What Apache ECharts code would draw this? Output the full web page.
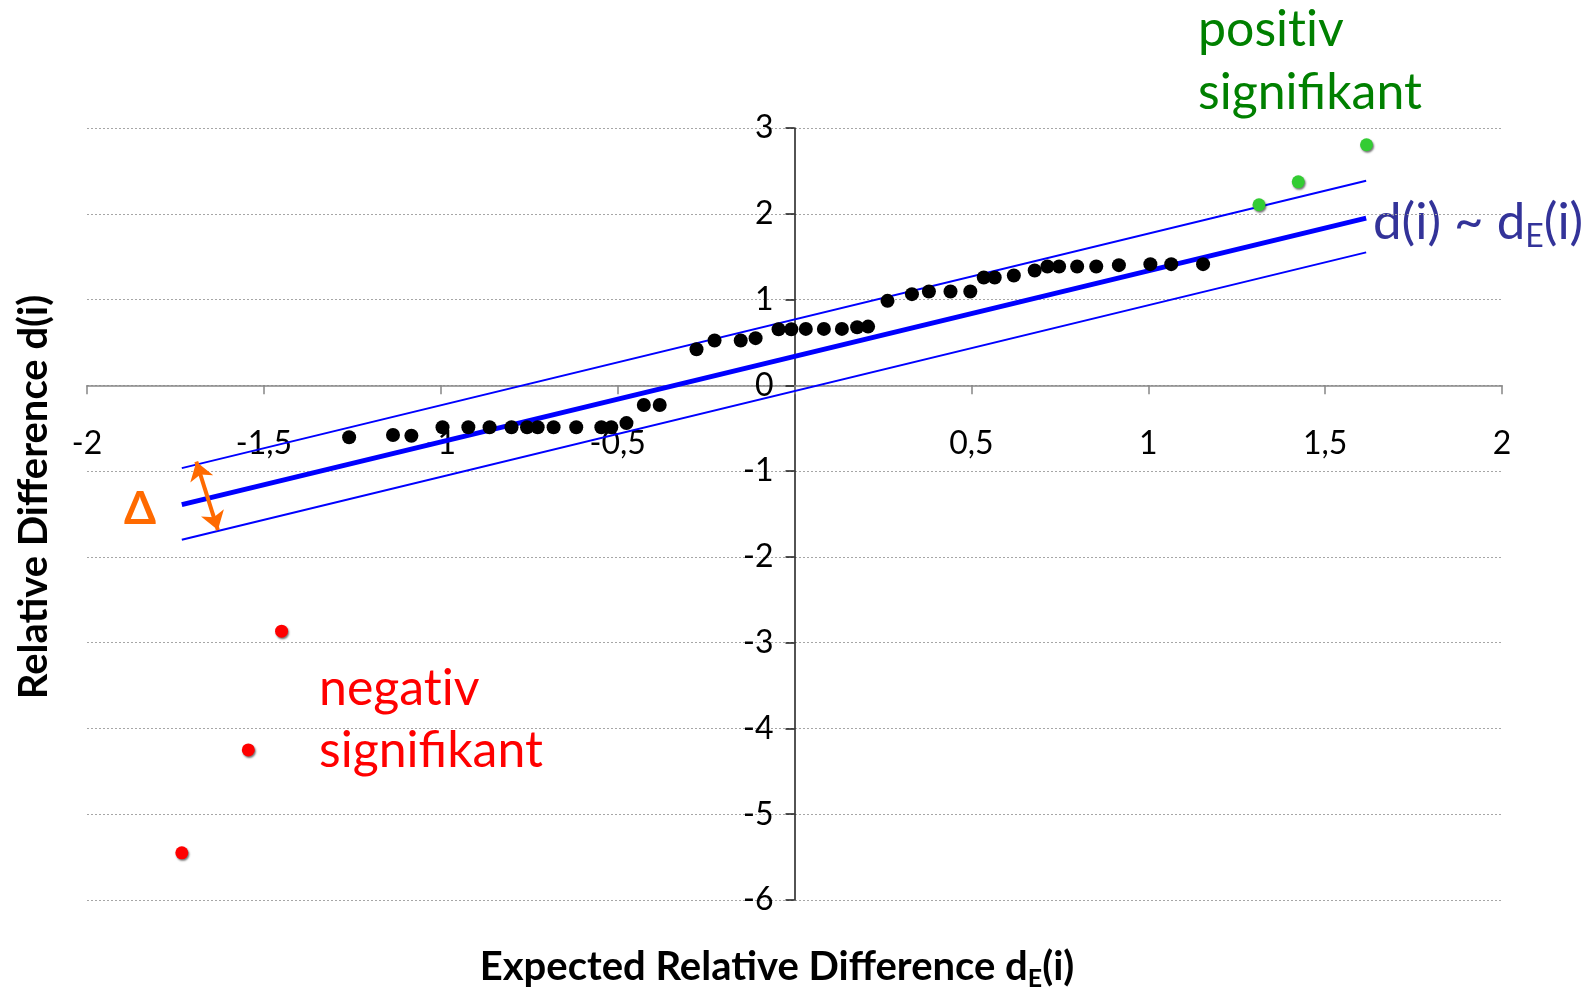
<!DOCTYPE html>
<html><head><meta charset="utf-8">
<script src="https://cdn.jsdelivr.net/npm/echarts@6/dist/echarts.min.js"></script>
<style>html,body{margin:0;padding:0;background:#fff}#c{width:1585px;height:987px}</style>
</head><body><div id="c"></div>
<script>
// ---- data ----
const blackX = [-1.259, -1.135, -1.083, -0.995, -0.922, -0.862, -0.800, -0.756, -0.726, -0.681, -0.617, -0.546, -0.518, -0.475, -0.426, -0.381, -0.277, -0.226, -0.152, -0.110, -0.045, -0.009, 0.032, 0.083, 0.134, 0.177, 0.208, 0.263, 0.332, 0.380, 0.441, 0.497, 0.535, 0.566, 0.620, 0.679, 0.715, 0.748, 0.799, 0.853, 0.917, 1.006, 1.065, 1.155];
const blackY = [-0.606, -0.579, -0.587, -0.489, -0.489, -0.489, -0.489, -0.489, -0.489, -0.489, -0.489, -0.489, -0.489, -0.440, -0.229, -0.229, 0.421, 0.522, 0.522, 0.550, 0.654, 0.654, 0.658, 0.658, 0.658, 0.678, 0.685, 0.985, 1.063, 1.094, 1.094, 1.094, 1.257, 1.257, 1.280, 1.338, 1.385, 1.385, 1.385, 1.385, 1.401, 1.413, 1.413, 1.413];
const negX = [-1.732, -1.544, -1.450];
const negY = [-5.45, -4.25, -2.866];
const posX = [1.313, 1.424, 1.617];
const posY = [2.105, 2.373, 2.805];
const bandX = [-1.732, 1.616];
const fitY = [-1.39, 1.95];
const upperY = [-0.965, 2.385];
const lowerY = [-1.80, 1.55];
const arrowX = [-1.691, -1.630];
const arrowY = [-0.89, -1.687];
const xMin = -2, xMax = 2, xStep = 0.5;
const yMin = -6, yMax = 3, yStep = 1;
const xTitle = 'Expected Relative Difference d';
const yTitle = 'Relative Difference d(i)';
const labelsPos = ['posit\u200Civ', 'signifikant'];
const labelsNeg = ['negat\u200Civ', 'signifikant'];
const deltaLabel = 'Δ';

const zip = (a, b) => a.map((v, i) => [v, b[i]]);
const FONT = 'Lato, "Open Sans", sans-serif';
const shadow = {shadowColor: 'rgba(0,0,0,0.55)', shadowBlur: 2, shadowOffsetX: 1, shadowOffsetY: 1.5};

const W = 1585, H = 987;
const G = {left: 87, right: 83, top: 128, bottom: 87};
const plotW = W - G.left - G.right, plotH = H - G.top - G.bottom;
// move the axes so they cross at the origin (labels follow the axis lines)
const xAxisOffset = -plotH * (0 - yMin) / (yMax - yMin);
const yAxisOffset = -plotW * (0 - xMin) / (xMax - xMin);

const chart = echarts.init(document.getElementById('c'), null, {renderer: 'canvas'});
chart.setOption({
  animation: false,
  backgroundColor: '#ffffff',
  grid: Object.assign({containLabel: false}, G),
  xAxis: {
    type: 'value', min: xMin, max: xMax, interval: xStep,
    position: 'bottom', offset: xAxisOffset,
    axisLine: {onZero: false, lineStyle: {color: '#868686', width: 1.5}},
    axisTick: {show: true, length: 9, lineStyle: {color: '#868686', width: 1.5}},
    axisLabel: {
      margin: 42, color: '#000', fontFamily: FONT, fontSize: 32,
      showMinLabel: true, showMaxLabel: true,
      formatter: v => v === 0 ? '' : String(v).replace('.', ',')
    },
    splitLine: {show: false}
  },
  yAxis: {
    type: 'value', min: yMin, max: yMax, interval: yStep,
    position: 'left', offset: yAxisOffset,
    axisLine: {onZero: false, lineStyle: {color: '#1a1a1a', width: 1.5}},
    axisTick: {show: true, length: 9, lineStyle: {color: '#1a1a1a', width: 1.5}},
    axisLabel: {margin: 21, color: '#000', fontFamily: FONT, fontSize: 32,
      padding: [8, 0, 0, 0], formatter: v => String(v)},
    splitLine: {show: true, lineStyle: {type: [2, 2], color: '#a6a6a6', width: 1}}
  },
  series: [
    {type: 'line', data: zip(bandX, upperY), symbol: 'none', lineStyle: {color: '#0000ff', width: 2}, z: 2},
    {type: 'line', data: zip(bandX, lowerY), symbol: 'none', lineStyle: {color: '#0000ff', width: 2}, z: 2},
    {type: 'line', data: zip(bandX, fitY), symbol: 'none', lineStyle: {color: '#0000ff', width: 5}, z: 2},
    {type: 'scatter', data: zip(blackX, blackY), symbol: 'circle', symbolSize: 14,
      itemStyle: {color: '#000000', opacity: 1}, z: 3},
    {type: 'scatter', data: zip(negX, negY), symbol: 'circle', symbolSize: 13,
      itemStyle: Object.assign({color: '#ff0000', opacity: 1}, shadow), z: 3},
    {type: 'scatter', data: zip(posX, posY), symbol: 'circle', symbolSize: 13,
      itemStyle: Object.assign({color: '#33cc33', opacity: 1}, shadow), z: 3},
    {type: 'lines', coordinateSystem: 'cartesian2d',
      symbol: ['arrow', 'arrow'], symbolSize: 18,
      lineStyle: {color: '#ff6a00', width: 4, opacity: 1},
      data: [{coords: zip(arrowX, arrowY)}], z: 4}
  ],
  graphic: [
    {type: 'text', x: 1198, y: 55, style: {text: labelsPos[0], fill: '#008000', fontFamily: FONT, fontSize: 50, align: 'left', verticalAlign: 'bottom'}},
    {type: 'text', x: 1198, y: 118, style: {text: labelsPos[1], fill: '#008000', fontFamily: FONT, fontSize: 50, align: 'left', verticalAlign: 'bottom'}},
    {type: 'text', x: 319, y: 714, style: {text: labelsNeg[0], fill: '#ff0000', fontFamily: FONT, fontSize: 50, align: 'left', verticalAlign: 'bottom'}},
    {type: 'text', x: 319, y: 776, style: {text: labelsNeg[1], fill: '#ff0000', fontFamily: FONT, fontSize: 50, align: 'left', verticalAlign: 'bottom'}},
    {type: 'text', x: 1373, y: 223, style: {
      text: '{m|d(i) ~ d}{s|E}{m|(i)}', align: 'left', verticalAlign: 'middle',
      rich: {
        m: {fontFamily: FONT, fontSize: 51, fill: '#333399', lineHeight: 60, verticalAlign: 'middle'},
        s: {fontFamily: FONT, fontSize: 32, fill: '#333399', lineHeight: 20, verticalAlign: 'bottom'}
      }}},
    {type: 'text', x: 140, y: 509, style: {text: deltaLabel, fill: '#ff6a00', fontFamily: FONT, fontSize: 46, fontWeight: 'bold', align: 'center', verticalAlign: 'middle'}},
    {type: 'text', x: 777, y: 967, style: {
      text: '{m|' + xTitle + '}{s|E}{m|(i)}', align: 'center', verticalAlign: 'middle',
      rich: {
        m: {fontFamily: FONT, fontSize: 40, fontWeight: 'bold', fill: '#000', lineHeight: 48, verticalAlign: 'middle'},
        s: {fontFamily: FONT, fontSize: 25, fontWeight: 'bold', fill: '#000', lineHeight: 14, verticalAlign: 'bottom'}
      }}},
    {type: 'text', x: 34, y: 497, rotation: Math.PI / 2, style: {text: yTitle, fill: '#000', fontFamily: FONT, fontSize: 40, fontWeight: 'bold', align: 'center', verticalAlign: 'middle'}}
  ]
});
</script>
</body></html>
